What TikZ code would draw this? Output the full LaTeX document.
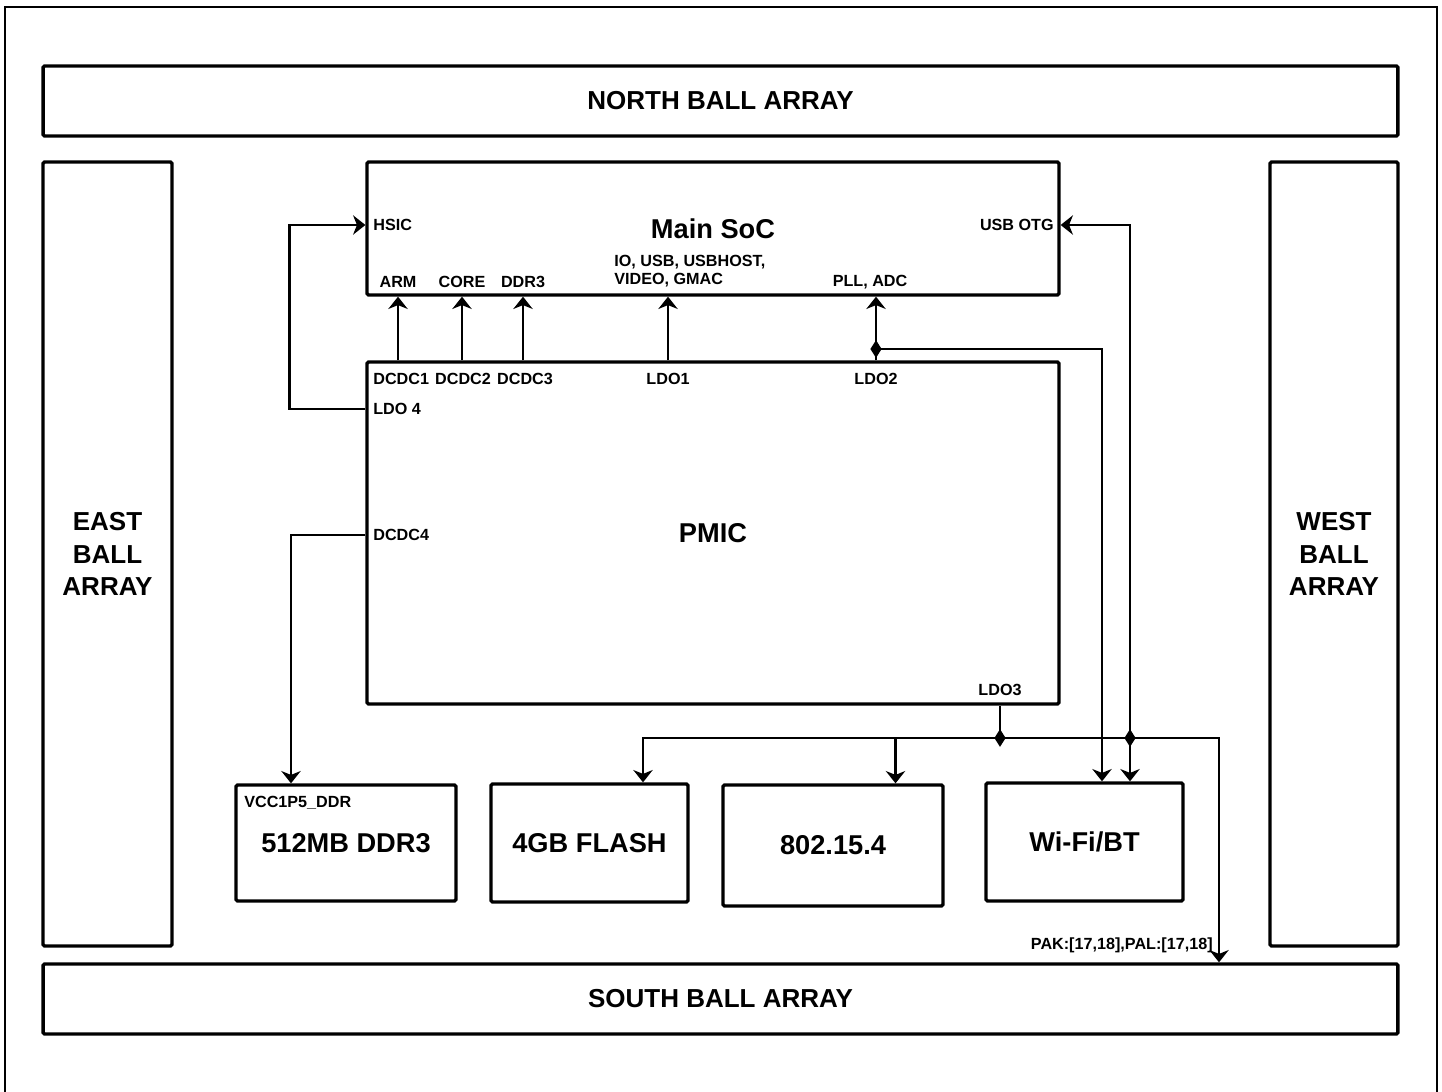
\documentclass[tikz,border=0pt]{standalone}
\usepackage{fontspec}
\setmainfont{Liberation Sans}
\usetikzlibrary{arrows.meta,shapes.geometric,calc}

\begin{document}
\begin{tikzpicture}[x=0.02cm, y=-0.02cm,
  >={Stealth[length=7pt,width=11pt,inset=2.2pt]},
  box/.style  ={draw, line width=1.9pt, rounded corners=0.8pt, inner sep=0pt,
                font=\fontsize{15.5}{18}\selectfont\bfseries},
  balls/.style={box, align=center, font=\fontsize{14.8}{18.7}\selectfont\bfseries},
  pin/.style  ={inner sep=0pt, font=\fontsize{9.2}{10.2}\selectfont\bfseries},
  wire/.style ={line width=1.5pt},
  junc/.style ={diamond, fill, inner sep=0pt, minimum width=0.23cm, minimum height=0.36cm}]

  \useasboundingbox (0,0) rectangle (1442,1091);
  \draw[line width=1.1pt] (5,7) rectangle (1437,1110);

  % ball arrays round the edge
  \node[balls, minimum width=27.1cm, minimum height=1.4cm]  (north) at (720.5,101) {NORTH BALL ARRAY};
  \node[balls, minimum width=27.1cm, minimum height=1.4cm]  (south) at (720.5,999) {SOUTH BALL ARRAY};
  \node[balls, minimum width=2.58cm, minimum height=15.68cm] (east) at (107.5,554) {EAST\\BALL\\ARRAY};
  \node[balls, minimum width=2.56cm, minimum height=15.68cm] (west) at (1334,554)  {WEST\\BALL\\ARRAY};

  % SoC and PMIC
  \node[box, minimum width=13.84cm, minimum height=2.66cm] (soc)  at (713,228.5) {Main SoC};
  \node[box, minimum width=13.84cm, minimum height=6.84cm] (pmic) at (713,533)   {PMIC};

  % peripherals
  \node[box, minimum width=4.4cm,  minimum height=2.32cm] (ddr)   at (346,843)    {512MB DDR3};
  \node[box, minimum width=3.94cm, minimum height=2.36cm] (flash) at (589.5,843)  {4GB FLASH};
  \node[box, minimum width=4.4cm,  minimum height=2.42cm] (zig)   at (833,845.5)  {802.15.4};
  \node[box, minimum width=3.94cm, minimum height=2.36cm] (wifi)  at (1084.5,842) {Wi-Fi/BT};

  % SoC pins
  \node[pin, anchor=west] (hsic) at (373,225) {HSIC};
  \node[pin] (arm)  at (398,282) {ARM};
  \node[pin] (core) at (462,282) {CORE};
  \node[pin] (ddrp) at (523,282) {DDR3};
  \node[pin, anchor=west, align=left] (io) at (614,271) {IO, USB, USBHOST,\\VIDEO, GMAC};
  \node[pin] (pll)  at (870,282) {PLL, ADC};
  \node[pin, anchor=east] (otg) at (1054,225) {USB OTG};

  % PMIC pins
  \node[pin, anchor=west] (dcdc1) at (373,379) {DCDC1};
  \node[pin] (dcdc2) at (463,379) {DCDC2};
  \node[pin] (dcdc3) at (525,379) {DCDC3};
  \node[pin] (ldo1)  at (668,379) {LDO1};
  \node[pin] (ldo2)  at (876,379) {LDO2};
  \node[pin, anchor=west] (ldo4)  at (373,409) {LDO 4};
  \node[pin, anchor=west] (dcdc4) at (373,535) {DCDC4};
  \node[pin] (ldo3)  at (1000,690) {LDO3};
  \node[pin, anchor=west] (vcc) at (244,803) {VCC1P5\_DDR};
  \node[pin, anchor=east] (pak) at (1213,945) {PAK:[17,18],PAL:[17,18]};

  % PMIC -> SoC rails
  \foreach \p in {arm,core,ddrp,ldo1}{\draw[wire,->] (\p |- pmic.north) -- (\p |- soc.south);}
  \draw[wire,->] (ldo2 |- pmic.north) -- (ldo2 |- soc.south);
  \draw[wire,->] (pmic.west |- ldo4) -- ++(-76,0) |- (soc.west |- hsic);
  \draw[wire,->] (pmic.west |- dcdc4) -| ($(ddr.north)+(-55,0)$);

  % LDO2 tap and USB OTG to Wi-Fi/BT
  \coordinate (j2) at (876,349);
  \draw[wire,->]  (j2) -| ($(wifi.north)+(17.5,0)$);
  \coordinate (t4) at ($(wifi.north)+(45.5,0)$);
  \draw[wire,<->] (soc.east |- otg) -| (t4);

  % LDO3 bus
  \coordinate (j3) at (1000,738);
  \coordinate (j4) at (t4 |- j3);
  \coordinate (t5) at ($(zig.north)+(62.5,0)$);
  \coordinate (t6) at ($(south.north)+(498.5,0)$);
  \draw[wire]    (ldo3 |- pmic.south) -- (j3);
  \draw[wire,->] (j3) -| ($(flash.north)+(53.5,0)$);
  \draw[wire,->] (t5 |- j3) -- (t5);
  \draw[wire,->] (j3) -| (t6);

  % junctions
  \node[junc] (d2) at (j2) {};
  \node[junc] (d3) at (j3) {};
  \node[junc] (d4) at (j4) {};
\end{tikzpicture}
\end{document}
